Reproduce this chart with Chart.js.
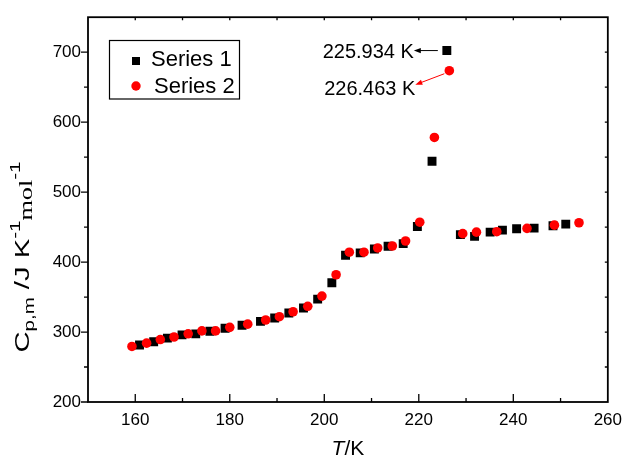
<!DOCTYPE html>
<html>
<head>
<meta charset="utf-8">
<script src="https://cdn.jsdelivr.net/npm/chart.js@4"></script>
<style>
  html, body { margin: 0; padding: 0; background: #fff; }
  canvas { display: block; }
</style>
</head>
<body>
<canvas id="cpChart" width="630" height="458"></canvas>
<script>
// Heat capacity data
const series1T = [160.9, 163.9, 166.8, 169.9, 172.8, 175.8, 179.0, 182.6, 186.5, 189.5, 192.5, 195.6, 198.6, 201.6, 204.5,
  207.6, 210.6, 213.5, 216.7, 219.7, 222.8, 225.934, 228.8, 231.8, 235.1, 237.7, 240.7, 244.4, 248.4, 251.1];
const series1Cp = [281.4, 286.1, 291.3, 296.0, 297.4, 301.1, 305.3, 309.6, 315.3, 320.1, 327.2, 334.3, 347.0, 370.5, 409.8,
  413.1, 418.7, 422.6, 426.4, 450.9, 544.1, 702.3, 439.2, 436.7, 442.8, 445.7, 447.7, 448.5, 451.9, 454.2];

const series2T = [159.3, 162.4, 165.3, 168.2, 171.2, 174.1, 177.0, 180.0, 183.8, 187.6, 190.5, 193.4, 196.5, 199.5, 202.5,
  205.3, 208.4, 211.3, 214.4, 217.2, 220.2, 223.3, 226.463, 229.3, 232.2, 236.5, 242.9, 248.7, 253.9];
const series2Cp = [279.4, 284.1, 289.3, 292.9, 297.5, 301.6, 301.6, 306.7, 311.3, 317.2, 321.9, 329.0, 336.8, 351.4, 381.9,
  414.1, 414.1, 420.2, 423.0, 430.1, 457.0, 578.1, 673.5, 440.6, 442.8, 443.4, 448.1, 452.8, 456.2];

const seriesNames = ['Series 1', 'Series 2'];
const xTickValues = [160, 180, 200, 220, 240, 260];
const yTickValues = [200, 300, 400, 500, 600, 700];
const peakLabels = ['225.934 K', '226.463 K'];

const SANS = '"Liberation Sans", Arial, sans-serif';
const SERIF = '"Liberation Serif", "Times New Roman", serif';

function toPoints(xs, ys) {
  return xs.map((x, i) => ({ x: x, y: ys[i] }));
}

function drawArrow(ctx, x1, y1, x2, y2, color) {
  const ang = Math.atan2(y2 - y1, x2 - x1);
  const len = 7, half = 2.6;
  ctx.save();
  ctx.strokeStyle = color;
  ctx.fillStyle = color;
  ctx.lineWidth = 1;
  ctx.beginPath();
  ctx.moveTo(x1, y1);
  ctx.lineTo(x2 - Math.cos(ang) * len * 0.8, y2 - Math.sin(ang) * len * 0.8);
  ctx.stroke();
  ctx.beginPath();
  ctx.moveTo(x2, y2);
  ctx.lineTo(x2 - Math.cos(ang) * len - Math.sin(ang) * half, y2 - Math.sin(ang) * len + Math.cos(ang) * half);
  ctx.lineTo(x2 - Math.cos(ang) * len + Math.sin(ang) * half, y2 - Math.sin(ang) * len - Math.cos(ang) * half);
  ctx.closePath();
  ctx.fill();
  ctx.restore();
}

// Draw a run of [text, fontSize, dy, family, italic] pieces; returns the total width
function drawRuns(ctx, runs, x, y, measureOnly) {
  let cx = x;
  runs.forEach(r => {
    ctx.font = (r[4] ? 'italic ' : '') + r[1] + 'px ' + (r[3] || SANS);
    if (!measureOnly) ctx.fillText(r[0], cx, y + r[2]);
    cx += ctx.measureText(r[0]).width;
  });
  return cx - x;
}

// Frame, Origin-style ticks, titles, legend and peak annotations
const decorPlugin = {
  id: 'decor',
  afterDraw(chart) {
    const ctx = chart.ctx;
    const area = chart.chartArea;
    const xs = chart.scales.x, ys = chart.scales.y;
    ctx.save();
    ctx.strokeStyle = '#000';
    ctx.lineWidth = 1.8;
    ctx.strokeRect(area.left, area.top, area.right - area.left, area.bottom - area.top);

    ctx.lineWidth = 1.3;
    ctx.beginPath();
    for (let v = 160; v < 260; v += 10) {
      const px = xs.getPixelForValue(v);
      const major = v % 20 === 0;
      ctx.moveTo(px, area.bottom);
      ctx.lineTo(px, area.bottom - (major ? 8 : 4));
      ctx.moveTo(px, area.top);
      ctx.lineTo(px, area.top + 3);
    }
    for (let v = 250; v < 750; v += 50) {
      const py = ys.getPixelForValue(v);
      const major = v % 100 === 0;
      ctx.moveTo(area.left, py);
      ctx.lineTo(area.left - (major ? 7 : 4), py);
      ctx.moveTo(area.right, py);
      ctx.lineTo(area.right - 3, py);
    }
    ctx.moveTo(area.left, area.bottom);
    ctx.lineTo(area.left - 7, area.bottom);
    ctx.stroke();

    // x title
    ctx.fillStyle = '#000';
    ctx.textBaseline = 'alphabetic';
    const xRuns = [['T', 21, 0, SANS, true], ['/K', 21, 0, SANS, false]];
    const xw = drawRuns(ctx, xRuns, 0, 0, true);
    drawRuns(ctx, xRuns, (area.left + area.right) / 2 - xw / 2, 455, false);

    // y title (rotated, stretched along its length like the original)
    const yRuns = [
      ['C', 20, 0], ['p,m', 14, 5], [' /J K', 20, 0], ['-1', 14, -9],
      ['mol', 18, 3, SERIF], ['-1', 14, -9]
    ];
    const yw = drawRuns(ctx, yRuns, 0, 0, true);
    const targetLen = 191;
    ctx.save();
    ctx.translate(29, 257);
    ctx.rotate(-Math.PI / 2);
    ctx.scale(targetLen / yw, 1);
    drawRuns(ctx, yRuns, -yw / 2, 0, false);
    ctx.restore();

    // legend box
    ctx.lineWidth = 1.2;
    ctx.strokeRect(109.5, 40.5, 130, 58.5);
    ctx.fillStyle = '#000';
    ctx.fillRect(132, 57, 8, 8);
    ctx.fillStyle = '#ff0000';
    ctx.beginPath();
    ctx.arc(136, 86, 4.7, 0, Math.PI * 2);
    ctx.fill();
    ctx.fillStyle = '#000';
    ctx.font = '22px ' + SANS;
    ctx.fillText(seriesNames[0], 151, 66);
    ctx.fillText(seriesNames[1], 154, 92.5);

    // peak annotations anchored on the peak points
    const p1 = chart.getDatasetMeta(0).data[series1Cp.indexOf(Math.max(...series1Cp))];
    const p2 = chart.getDatasetMeta(1).data[series2Cp.indexOf(Math.max(...series2Cp))];
    ctx.font = '20px ' + SANS;
    ctx.textAlign = 'right';
    ctx.fillStyle = '#000';
    ctx.fillText(peakLabels[0], p1.x - 33, p1.y + 7);
    drawArrow(ctx, p1.x - 9, p1.y, p1.x - 33, p1.y, '#000');
    ctx.fillText(peakLabels[1], p2.x - 34, p2.y + 24);
    drawArrow(ctx, p2.x - 5, p2.y + 3, p2.x - 34, p2.y + 14, '#ff0000');
    ctx.restore();
  }
};

const tickFont = { family: SANS, size: 17 };

new Chart(document.getElementById('cpChart'), {
  type: 'scatter',
  data: {
    datasets: [
      { label: seriesNames[0], data: toPoints(series1T, series1Cp), pointStyle: 'rect', pointRadius: 6.3,
        backgroundColor: '#000', borderWidth: 0, order: 1 },
      { label: seriesNames[1], data: toPoints(series2T, series2Cp), pointStyle: 'circle', pointRadius: 4.8,
        backgroundColor: '#ff0000', borderWidth: 0, order: 0 }
    ]
  },
  options: {
    responsive: false,
    animation: false,
    devicePixelRatio: 1,
    layout: { padding: { left: 0, right: 19, top: 14, bottom: 0 } },
    plugins: { legend: { display: false }, tooltip: { enabled: false } },
    scales: {
      x: {
        type: 'linear', min: 150, max: 260,
        afterBuildTicks: axis => { axis.ticks = xTickValues.map(v => ({ value: v })); },
        afterFit: axis => { axis.height = 56; },
        grid: { display: false, drawTicks: false },
        border: { display: false },
        ticks: { font: tickFont, color: '#000', padding: 8, maxRotation: 0, autoSkip: false }
      },
      y: {
        type: 'linear', min: 200, max: 750,
        afterBuildTicks: axis => { axis.ticks = yTickValues.map(v => ({ value: v })); },
        afterFit: axis => { axis.width = 88; },
        grid: { display: false, drawTicks: false },
        border: { display: false },
        ticks: { font: tickFont, color: '#000', padding: 7, autoSkip: false }
      }
    }
  },
  plugins: [decorPlugin]
});
</script>
</body>
</html>
